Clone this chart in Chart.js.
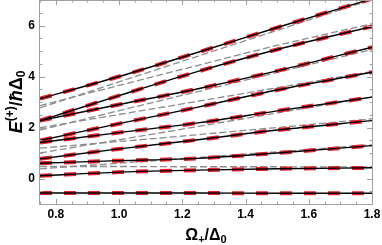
<!DOCTYPE html>
<html>
<head>
<meta charset="utf-8">
<script src="https://cdn.jsdelivr.net/npm/chart.js@4.4.1/dist/chart.umd.min.js"></script>
<style>
  html, body { margin: 0; padding: 0; background: #fff; }
  canvas { display: block; }
</style>
</head>
<body>
<canvas id="levels" width="382" height="245"></canvas>
<script>
// sample points along the x axis (Omega+/Delta0)
const omega = [0.75, 1.0, 1.25, 1.5, 1.8];

// exact levels (black solid, red dashes on top)
const level0 = [-0.57, -0.57, -0.57, -0.58, -0.58];
const level1 = [0.11, 0.25, 0.33, 0.38, 0.42];
const level2 = [0.60, 0.70, 0.79, 1.00, 1.29];
const level3 = [0.77, 1.16, 1.52, 1.90, 2.27];
const level4 = [1.41, 1.80, 2.18, 2.65, 3.19];
const level5 = [1.49, 2.15, 2.80, 3.47, 4.17];
const level6 = [2.27, 2.90, 3.52, 4.22, 5.15];
const level7 = [2.27, 3.25, 4.20, 5.06, 5.96];
const level8 = [3.13, 4.00, 4.95, 5.92, 7.05];

// gray dashed curves
const gray0 = [0.47, 0.47, 0.46, 0.46, 0.45];
const gray1 = [0.38, 0.60, 0.82, 1.05, 1.32];
const gray2 = [1.00, 1.52, 2.04, 2.57, 3.20];
const gray3 = [1.19, 1.45, 1.72, 2.00, 2.34];
const gray4 = [1.90, 2.66, 3.41, 4.16, 5.06];
const gray5 = [1.99, 2.51, 3.03, 3.56, 4.20];
const gray6 = [2.77, 3.79, 4.80, 5.81, 7.02];
const gray7 = [2.86, 3.65, 4.44, 5.22, 6.07];

const xTicks = [0.8, 1.0, 1.2, 1.4, 1.6, 1.8];
const xTickLabels = ["0.8", "1.0", "1.2", "1.4", "1.6", "1.8"];
const yTicks = [0, 2, 4, 6];
const yTickLabels = ["0", "2", "4", "6"];

const exact = [level0, level1, level2, level3, level4, level5, level6, level7, level8];
const approx = [gray0, gray1, gray2, gray3, gray4, gray5, gray6, gray7];

const toPoints = (ys) => omega.map((x, i) => ({ x, y: ys[i] }));

const FONT = "'Liberation Sans', Arial, sans-serif";

const datasets = [];
exact.forEach((ys) => {
  datasets.push({
    data: toPoints(ys),
    borderColor: "#000",
    borderWidth: 1.4,
    order: 0,
  });
  datasets.push({
    data: toPoints(ys),
    borderColor: "#e3242b",
    borderWidth: 4,
    borderDash: [12, 12],
    order: 1,
  });
});
approx.forEach((ys) => {
  datasets.push({
    data: toPoints(ys),
    borderColor: "#8c8c8c",
    borderWidth: 1.3,
    borderDash: [7, 3],
    order: 2,
  });
});
datasets.forEach((d) => {
  d.showLine = true;
  d.pointRadius = 0;
  d.cubicInterpolationMode = "monotone";
});

const drawParts = (ctx, parts, cx, baseline) => {
  let width = 0;
  parts.forEach((p) => {
    ctx.font = p.font;
    p.w = ctx.measureText(p.t).width;
    width += p.w;
  });
  let x = cx - width / 2;
  parts.forEach((p) => {
    ctx.font = p.font;
    ctx.fillText(p.t, x, baseline + (p.dy || 0));
    x += p.w;
  });
};

const frame = {
  id: "frame",
  afterDraw(chart) {
    const { ctx, chartArea: a } = chart;
    const { x, y } = chart.scales;
    ctx.save();
    ctx.strokeStyle = "#a0a0a0";
    ctx.lineWidth = 1;
    ctx.strokeRect(a.left - 0.5, a.top + 0.5, a.right - a.left + 1, a.bottom - a.top);

    ctx.beginPath();
    for (let k = 15; k <= 36; k++) {
      const px = Math.round(x.getPixelForValue(k / 20)) + 0.5;
      const len = k % 4 === 0 ? 5 : 2.5;
      ctx.moveTo(px, a.bottom);
      ctx.lineTo(px, a.bottom - len);
      ctx.moveTo(px, a.top);
      ctx.lineTo(px, a.top + len);
    }
    for (let k = -2; k <= 14; k++) {
      const py = Math.round(y.getPixelForValue(k / 2)) + 0.5;
      const len = k % 4 === 0 ? 5 : 2.5;
      ctx.moveTo(a.left, py);
      ctx.lineTo(a.left + len, py);
      ctx.moveTo(a.right, py);
      ctx.lineTo(a.right - len, py);
    }
    ctx.stroke();

    ctx.fillStyle = "#000";
    ctx.font = "bold 12px " + FONT;
    ctx.textAlign = "center";
    ctx.textBaseline = "alphabetic";
    xTicks.forEach((v, i) => {
      ctx.fillText(xTickLabels[i], x.getPixelForValue(v), 218);
    });
    ctx.textAlign = "right";
    ctx.textBaseline = "middle";
    yTicks.forEach((v, i) => {
      ctx.fillText(yTickLabels[i], 35, y.getPixelForValue(v) + 0.5);
    });

    ctx.textAlign = "left";
    ctx.textBaseline = "alphabetic";
    drawParts(ctx, [
      { t: "\u03A9", font: "bold 16px " + FONT },
      { t: "+", font: "bold 11px " + FONT, dy: 3 },
      { t: "/\u0394", font: "bold 16px " + FONT },
      { t: "0", font: "bold 11px " + FONT, dy: 3 },
    ], (a.left + a.right) / 2, 240);

    ctx.translate(22, (a.top + a.bottom) / 2);
    ctx.rotate(-Math.PI / 2);
    drawParts(ctx, [
      { t: "E", font: "italic bold 18px " + FONT },
      { t: "(+)", font: "bold 12px " + FONT, dy: -8 },
      { t: "/", font: "bold 18px " + FONT },
      { t: "\u0127", font: "italic bold 18px " + FONT },
      { t: "\u0394", font: "bold 18px " + FONT },
      { t: "0", font: "bold 12px " + FONT, dy: 3 },
    ], 0, 0);
    ctx.restore();
  },
};

new Chart(document.getElementById("levels"), {
  type: "scatter",
  data: { datasets },
  options: {
    responsive: false,
    animation: false,
    layout: { padding: { left: 40, right: 10, top: 0, bottom: 41 } },
    plugins: { legend: { display: false }, tooltip: { enabled: false } },
    scales: {
      x: { type: "linear", min: 0.75, max: 1.8, display: false },
      y: { type: "linear", min: -1, max: 7, display: false },
    },
  },
  plugins: [frame],
});
</script>
</body>
</html>
